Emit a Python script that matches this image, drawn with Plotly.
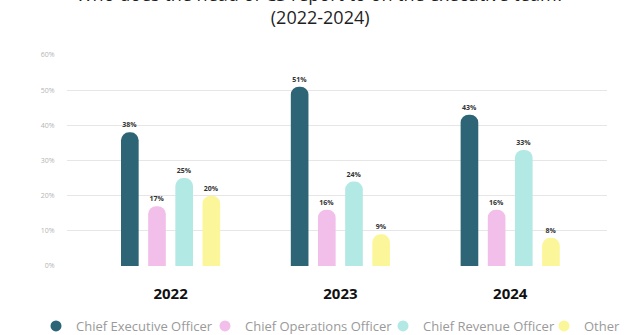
import plotly.graph_objects as go

years = ["2022", "2023", "2024"]
roles = ["Chief Executive Officer", "Chief Operations Officer", "Chief Revenue Officer", "Other"]
ceo = [38, 51, 43]
coo = [17, 16, 16]
cro = [25, 24, 33]
other = [20, 9, 8]
series = [ceo, coo, cro, other]
colors = ["#2d6476", "#f2bfea", "#b3e9e4", "#fcf69a"]
y_ticks = [0, 10, 20, 30, 40, 50, 60]

W, H = 640, 335
# left edge of each legend entry, in px
legend_left = [36, 205, 383, 544]
legend_ids = ["legend", "legend2", "legend3", "legend4"]

fig = go.Figure()

for role, vals, col in zip(roles, series, colors):
    fig.add_trace(go.Bar(
        x=years, y=vals, name=role, marker=dict(color=col, cornerradius="50%", line=dict(width=0)),
        text=[f"{v}%" for v in vals], textposition="outside",
        textfont=dict(family="Open Sans", size=7, color="#333333", weight="bold"),
        cliponaxis=False, showlegend=False,
    ))

# circular legend keys, one legend box per entry
for role, col, lid in zip(roles, colors, legend_ids):
    fig.add_trace(go.Scatter(
        x=[None], y=[None], mode="markers", name=role, legend=lid,
        marker=dict(symbol="circle", size=11, color=col),
    ))

fig.add_annotation(
    text="Who does the head of CS report to on the executive team?<br>(2022-2024)",
    xref="paper", yref="paper", x=0.5, y=1 - 31 / H, yanchor="bottom", xanchor="center",
    showarrow=False, font=dict(family="Open Sans", size=18, color="#1f1f1f"),
)

legend_style = dict(orientation="h", xanchor="left", y=1 - 326 / H, yanchor="middle",
                    itemwidth=30, bgcolor="rgba(0,0,0,0)",
                    font=dict(size=13, color="#9a9a9a"), itemclick=False)
legends = {lid: dict(legend_style, x=lx / W) for lid, lx in zip(legend_ids, legend_left)}

fig.update_layout(
    width=W, height=H,
    margin=dict(l=0, r=0, t=0, b=0, autoexpand=False),
    paper_bgcolor="white", plot_bgcolor="white",
    barmode="group", bargap=0.36, bargroupgap=0.35,
    font=dict(family="Open Sans"),
    xaxis=dict(type="category", domain=[67 / W, 607 / W], range=[-0.61, 2.57],
               showgrid=False, zeroline=False,
               showline=False, ticks="outside", ticklen=14, tickcolor="rgba(0,0,0,0)",
               tickfont=dict(size=15, color="#111111", weight="bold")),
    yaxis=dict(domain=[1 - 266 / H, 1 - 55 / H], range=[0, 60], tickmode="array",
               tickvals=y_ticks, ticktext=[f"{t}%" for t in y_ticks], showgrid=True,
               gridcolor="#e6e6e6", gridwidth=1, zeroline=False, showline=False,
               ticks="outside", ticklen=10, tickcolor="rgba(0,0,0,0)",
               tickfont=dict(size=7, color="#b5b5b5")),
    **legends,
)

fig.write_html("out.html")
